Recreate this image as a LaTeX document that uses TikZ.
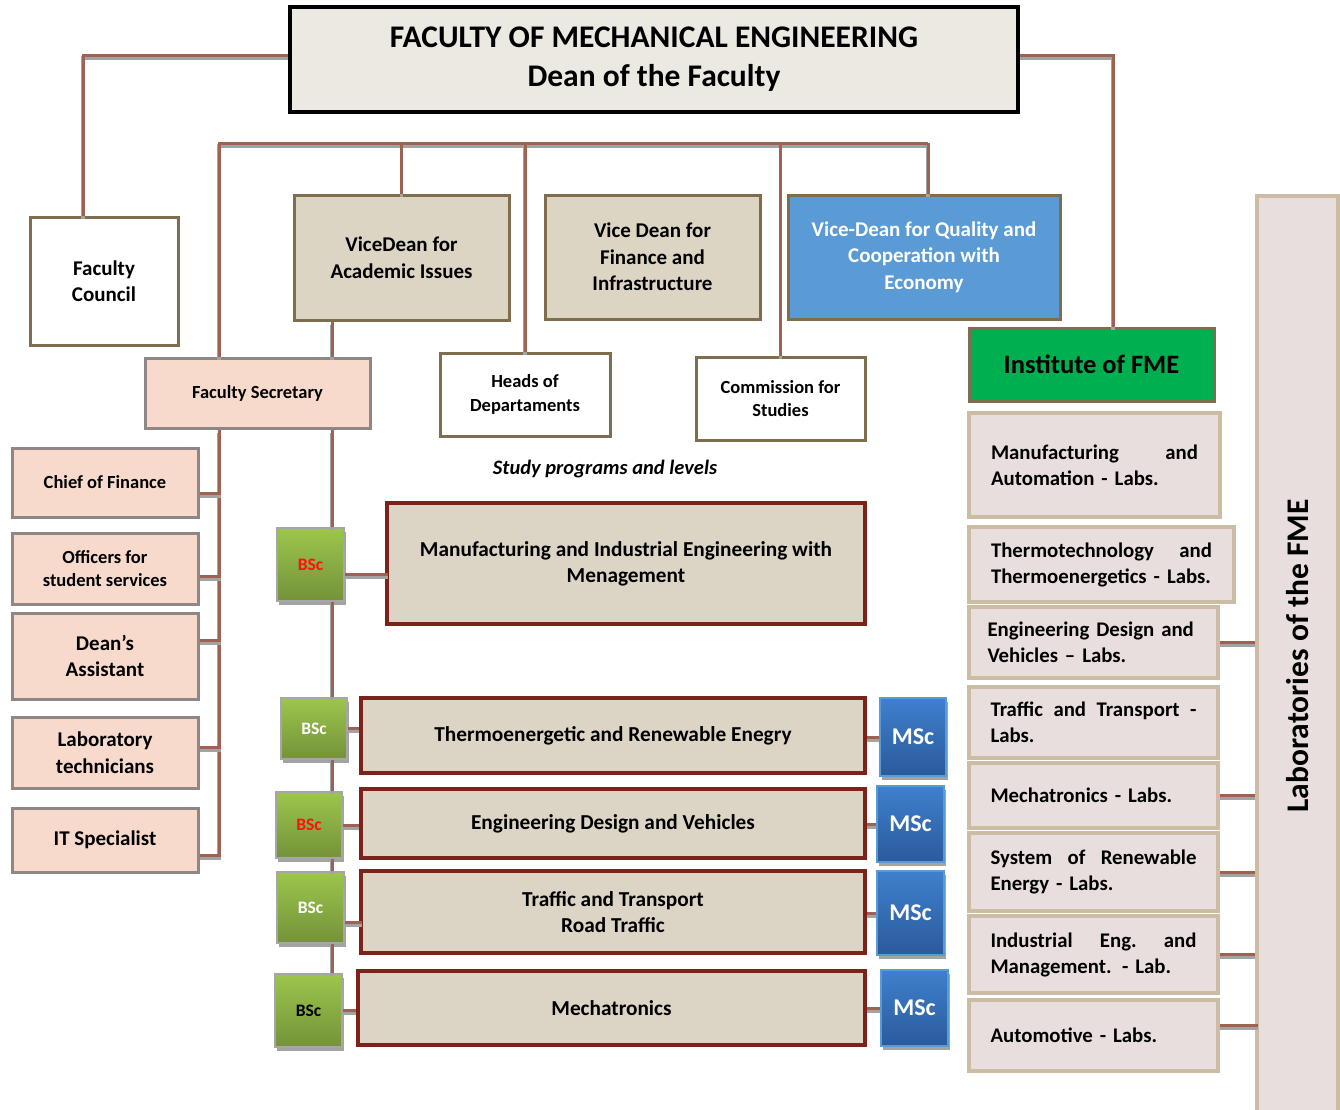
\documentclass[tikz,border=0pt]{standalone}
\usepackage{fontspec}
\setmainfont{Carlito}
\usetikzlibrary{shadows}

\definecolor{linkbrown}{HTML}{9E6252}
\definecolor{linkgray}{HTML}{A3A3A3}
\definecolor{deanfill}{HTML}{ECE8E2}
\definecolor{vicefill}{HTML}{DDD5C4}
\definecolor{boxolive}{HTML}{7F6E4D}
\definecolor{qualblue}{HTML}{5B9BD5}
\definecolor{instgreen}{HTML}{00B050}
\definecolor{staffill}{HTML}{F8DACD}
\definecolor{staffline}{HTML}{8F8686}
\definecolor{progfill}{HTML}{DCD4C4}
\definecolor{progline}{HTML}{7B2318}
\definecolor{labfill}{HTML}{E8DEDD}
\definecolor{labline}{HTML}{CBBCA3}
\definecolor{bsctop}{HTML}{9CC64C}
\definecolor{bscbot}{HTML}{74923A}
\definecolor{msctop}{HTML}{3E80CE}
\definecolor{mscbot}{HTML}{2B5A9B}
\definecolor{bscred}{HTML}{FF1010}

\newcommand{\fsm}{\fontsize{18.5}{23.5}\selectfont\bfseries}
\newcommand{\fmd}{\fontsize{21}{26.5}\selectfont\bfseries}

\tikzset{
  link/.style={draw=linkbrown, line width=3,
    preaction={draw=linkgray, line width=3.5, transform canvas={yshift=-3}}},
  box/.style={draw, line width=3, inner sep=0, align=center},
  toptitle/.style={box, draw=black, line width=3.5, fill=deanfill,
    font=\fontsize{31.5}{39}\selectfont\bfseries},
  plainbox/.style={box, draw=boxolive, fill=white},
  vice/.style={box, draw=boxolive, fill=vicefill, font=\fmd},
  staff/.style={box, draw=staffline, fill=staffill, minimum width=186},
  prog/.style={box, draw=progline, line width=3.5, fill=progfill,
    font=\fontsize{21.3}{26}\selectfont\bfseries},
  bsc/.style={box, draw=gray!70, line width=2, top color=bsctop, bottom color=bscbot,
    font=\fontsize{17.5}{20}\selectfont\bfseries,
    drop shadow={shadow xshift=1.5pt, shadow yshift=-4pt, fill=linkgray, opacity=1}},
  msc/.style={box, draw=qualblue, line width=2, top color=msctop, bottom color=mscbot,
    text=white, font=\fontsize{24}{28}\selectfont\bfseries,
    drop shadow={shadow xshift=1.5pt, shadow yshift=-4pt, fill=linkgray, opacity=1}},
  lab/.style={box, draw=labline, line width=4, fill=labfill, align=left,
    minimum width=249, text width=206, font=\fontsize{20.8}{26}\selectfont\bfseries},
}

\begin{document}
\begin{tikzpicture}[x=1pt, y=-1pt]
  \useasboundingbox (0,0) rectangle (1340,1109);

  % top
  \node[toptitle, minimum width=728, minimum height=105] (dean) at (654,59.5)
    {FACULTY OF MECHANICAL ENGINEERING\\Dean of the Faculty};
  \node[plainbox, minimum width=148, minimum height=128, font=\fmd] (council) at (104,281)
    {Faculty\\Council};

  % vice deans
  \node[vice, minimum width=215, minimum height=125] (vdacad) at (401.5,257.5)
    {ViceDean for\\Academic Issues};
  \node[vice, minimum width=215, minimum height=124] (vdfin) at (652.5,257)
    {Vice Dean for\\Finance and\\Infrastructure};
  \node[box, draw=boxolive, fill=qualblue, text=white, font=\fmd,
    minimum width=272, minimum height=124] (vdqual) at (924,257)
    {Vice-Dean for Quality and\\Cooperation with\\Economy};
  \node[box, draw=boxolive, fill=instgreen, font=\fontsize{26.5}{30}\selectfont\bfseries,
    minimum width=245, minimum height=73] (inst) at (1091.5,364.5) {Institute of FME};
  \node[plainbox, minimum width=170, minimum height=83, font=\fsm] (heads) at (525,394.5)
    {Heads of\\Departaments};
  \node[plainbox, minimum width=169, minimum height=83, font=\fsm] (commission) at (780.5,398.5)
    {Commission for\\Studies};
  \node[staff, minimum width=225, minimum height=70, font=\fsm] (secretary) at (257.5,393)
    {Faculty Secretary};

  % staff
  \node[staff, minimum height=69, font=\fsm] (chief) at (105,482.5) {Chief of Finance};
  \node[staff, minimum height=71, font=\fsm] (officers) at (105,568.5)
    {Officers for\\student services};
  \node[staff, minimum height=86, font=\fmd] (assistant) at (105,656) {Dean’s\\Assistant};
  \node[staff, minimum height=71, font=\fmd] (technicians) at (105,752.5)
    {Laboratory\\technicians};
  \node[staff, minimum height=64, font=\fmd] (itspec) at (105,840) {IT Specialist};

  % study programs
  \node[font=\fontsize{20.5}{24}\selectfont\bfseries\itshape] (studies) at (605,469)
    {Study programs and levels};
  \node[prog, minimum width=478, minimum height=121] (p1) at (626,563.5)
    {Manufacturing and Industrial Engineering with\\Menagement};
  \node[prog, minimum width=504, minimum height=75] (p2) at (613,735.5)
    {Thermoenergetic and Renewable Enegry};
  \node[prog, minimum width=504, minimum height=69] (p3) at (613,823.5)
    {Engineering Design and Vehicles};
  \node[prog, minimum width=504, minimum height=82] (p4) at (613,912)
    {Traffic and Transport\\Road Traffic};
  \node[prog, minimum width=507, minimum height=74] (p5) at (611.5,1008) {Mechatronics};

  \node[bsc, minimum width=67, minimum height=73, text=bscred] (b1) at (310.5,564.5) {BSc};
  \node[bsc, minimum width=66, minimum height=61, text=white] (b2) at (314,728.5) {BSc};
  \node[bsc, minimum width=66, minimum height=66, text=bscred] (b3) at (309,825) {BSc};
  \node[bsc, minimum width=67, minimum height=71, text=white] (b4) at (310.5,907.5) {BSc};
  \node[bsc, minimum width=67, minimum height=73, text=black] (b5) at (308.5,1010.5) {BSc};

  \node[msc, minimum width=66, minimum height=78] (m1) at (913,737) {MSc};
  \node[msc, minimum width=67, minimum height=76] (m2) at (910.5,824) {MSc};
  \node[msc, minimum width=67, minimum height=84] (m3) at (910.5,913) {MSc};
  \node[msc, minimum width=67, minimum height=76] (m4) at (914.5,1008) {MSc};

  % labs
  \node[lab, minimum width=251, minimum height=104, text width=207] (l1) at (1094.5,465)
    {Manufacturing\hfill and\\Automation - Labs.};
  \node[lab, minimum width=265, minimum height=75, text width=221] (l2) at (1101.5,564.5)
    {Thermotechnology\hfill and\\Thermoenergetics - Labs.};
  \node[lab, minimum height=71, text width=212] (l3) at (1093.5,642.5)
    {Engineering Design and\\Vehicles – Labs.};
  \node[lab, minimum height=71] (l4) at (1093.5,722.5)
    {Traffic\hfill and\hfill Transport\hfill -\\Labs.};
  \node[lab, minimum height=65] (l5) at (1093.5,795.5) {Mechatronics - Labs.};
  \node[lab, minimum height=78] (l6) at (1093.5,872)
    {System\hfill of\hfill Renewable\\Energy - Labs.};
  \node[lab, minimum height=77] (l7) at (1093.5,954.5)
    {Industrial\hfill Eng.\hfill and\\Management. - Lab.};
  \node[lab, minimum height=71] (l8) at (1093.5,1035.5) {Automotive - Labs.};
  \node[lab, rotate=90, minimum width=920, minimum height=81, text width=, align=center,
    font=\fontsize{31.5}{36}\selectfont\bfseries] (labsall) at (1297.5,656)
    {Laboratories of the FME};

  % connectors
  \coordinate (busL) at (219,143);
  \coordinate (busR) at (928,143);
  \coordinate (spine) at (332,0);
  \coordinate (staffEnd) at (219,857);

  \draw[link] ([yshift=4.5]dean.west) -| ([xshift=-21]council.north);
  \draw[link] ([yshift=4.5]dean.east) -| ([xshift=21.5]inst.north);

  \draw[link] (busR) -- (busL) -- (busL |- secretary.north);
  \draw[link] (busR) -- (busR |- vdqual.north);
  \draw[link] (vdacad.north |- busL) -- (vdacad.north);
  \draw[link] (heads.north |- busL) -- (heads.north);
  \draw[link] (commission.north |- busL) -- (commission.north);

  \draw[link] (vdacad.south -| spine) -- (secretary.north -| spine);
  \draw[link] (secretary.south -| spine) -- (b1.north -| spine);
  \draw[link] (b1.south -| spine) -- (b2.north -| spine);
  \draw[link] (b2.south -| spine) -- (b3.north -| spine);
  \draw[link] (b3.south -| spine) -- (b4.north -| spine);
  \draw[link] (b4.south -| spine) -- (b5.north -| spine);

  \draw[link] (secretary.south -| busL) -- (staffEnd);
  \draw[link] ([yshift=-10.5]chief.east) -- ++(21,0);
  \draw[link] ([yshift=-7.5]officers.east) -- ++(21,0);
  \draw[link] ([yshift=16]assistant.east) -- ++(21,0);
  \draw[link] ([yshift=5.5]technicians.east) -- ++(21,0);
  \draw[link] ([yshift=-15]itspec.east) -- ++(21,0);

  \draw[link] ([yshift=-10]b1.east) -- ++(43,0);
  \draw[link] (b2.east) -- (b2.east -| p2.west);
  \draw[link] (b3.east) -- (b3.east -| p3.west);
  \draw[link] ([yshift=-15]b4.east) -- ++(17,0);
  \draw[link] (b5.east) -- (b5.east -| p5.west);

  \draw[link] (m1.west -| p2.east) -- (m1.west);
  \draw[link] (m2.west -| p3.east) -- (m2.west);
  \draw[link] (m3.west -| p4.east) -- (m3.west);
  \draw[link] (m4.west -| p5.east) -- (m4.west);

  \draw[link] (l3.east) -- (l3.east -| labsall.north);
  \draw[link] (l5.east) -- (l5.east -| labsall.north);
  \draw[link] (l6.east) -- (l6.east -| labsall.north);
  \draw[link] (l7.east) -- (l7.east -| labsall.north);
  \draw[link] ([yshift=10]l8.east) -- ++(38,0);
\end{tikzpicture}
\end{document}
